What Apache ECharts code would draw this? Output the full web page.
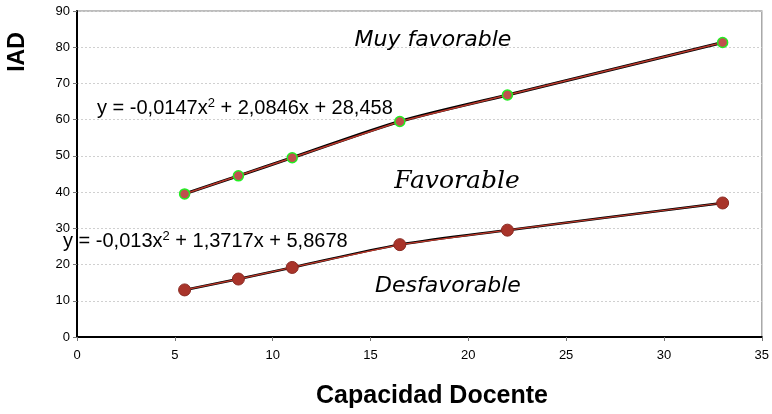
<!DOCTYPE html>
<html>
<head>
<meta charset="utf-8">
<script src="https://cdn.jsdelivr.net/npm/echarts@6/dist/echarts.min.js"></script>
<style>html,body{margin:0;padding:0;background:#fff}#c{width:772px;height:414px}</style>
</head>
<body>
<div id="c"></div>
<script>
var xValues = [5.5, 8.25, 11, 16.5, 22, 33];
var upperValues = [39.5, 44.5, 49.5, 59.5, 66.8, 81.3];
var lowerValues = [13, 16, 19.2, 25.5, 29.5, 37];
var xTitle = 'Capacidad Docente';
var yTitle = 'IAD';
var upperEquation = ['y = -0,0147x', '2', ' + 2,0846x + 28,458'];
var lowerEquation = ['y = -0,013x', '2', ' + 1,3717x + 5,8678'];
var zoneLabels = ['Muy favorable', 'Favorable', 'Desfavorable'];

function pairs(ys){ return xValues.map(function(x,i){ return [x, ys[i]]; }); }
function eqText(parts){ return parts[0] + '{sup|' + parts[1] + '}' + parts[2]; }

var chart = echarts.init(document.getElementById('c'));
var font = 'Liberation Sans, Arial, sans-serif';
var eqRich = {sup: {fontSize: 13, fontFamily: font, verticalAlign: 'top', lineHeight: 22, fill: '#000'}};
chart.setOption({
  animation: false,
  backgroundColor: '#fff',
  grid: {left: 77, right: 7, top: 11, bottom: 77, show: true, borderColor: '#a8a8a8', borderWidth: 1.5, backgroundColor: 'transparent'},
  xAxis: {
    type: 'value', min: 0, max: 35, interval: 5,
    axisLine: {lineStyle: {color: '#000', width: 2}},
    axisTick: {show: true, length: 4, lineStyle: {color: '#777'}},
    splitLine: {show: false},
    axisLabel: {color: '#000', fontSize: 13, fontFamily: font, margin: 12}
  },
  yAxis: {
    type: 'value', min: 0, max: 90, interval: 10,
    axisLine: {show: true, lineStyle: {color: '#000', width: 2}},
    axisTick: {show: true, length: 4, lineStyle: {color: '#777'}},
    splitLine: {show: true, lineStyle: {color: '#d0d0d0', type: [2, 2], width: 1}},
    axisLabel: {color: '#000', fontSize: 13, fontFamily: font, margin: 7}
  },
  series: [
    {type: 'line', data: pairs(upperValues), smooth: 0.3, showSymbol: false, lineStyle: {color: '#000', width: 3}, z: 2},
    {type: 'line', data: pairs(lowerValues), smooth: 0.3, showSymbol: false, lineStyle: {color: '#000', width: 2.5}, z: 2},
    {type: 'line', data: pairs(upperValues), symbol: 'circle', symbolSize: 10,
      lineStyle: {color: '#b8372c', width: 1.5},
      itemStyle: {color: '#c0504d', borderColor: '#22ee22', borderWidth: 1.5}, z: 3},
    {type: 'line', data: pairs(lowerValues), symbol: 'circle', symbolSize: 12,
      lineStyle: {color: '#c0392b', width: 1.2},
      itemStyle: {color: '#a9342a', borderColor: '#8a2a22', borderWidth: 1}, z: 3}
  ],
  graphic: [
    {type: 'text', x: 18, y: 52, rotation: Math.PI/2, style: {text: yTitle, font: 'bold 23px ' + font, fill: '#000', align: 'center', verticalAlign: 'middle'}, z: 10},
    {type: 'text', x: 432, y: 396, style: {text: xTitle, font: 'bold 25px ' + font, fill: '#000', align: 'center', verticalAlign: 'middle'}, z: 10},
    {type: 'text', x: 433, y: 40, style: {text: zoneLabels[0], font: 'oblique 22px "DejaVu Sans", sans-serif', fill: '#000', align: 'center', verticalAlign: 'middle'}, z: 10},
    {type: 'text', x: 457, y: 181, style: {text: zoneLabels[1], font: 'italic 25px "DejaVu Serif", serif', fill: '#000', align: 'center', verticalAlign: 'middle'}, z: 10},
    {type: 'text', x: 448, y: 286, style: {text: zoneLabels[2], font: 'oblique 22px "DejaVu Sans", sans-serif', fill: '#000', align: 'center', verticalAlign: 'middle'}, z: 10},
    {type: 'text', x: 97, y: 108, style: {text: eqText(upperEquation), font: '20px ' + font, fill: '#000', align: 'left', verticalAlign: 'middle', rich: eqRich}, z: 10},
    {type: 'text', x: 63, y: 241, style: {text: eqText(lowerEquation), font: '20px ' + font, fill: '#000', align: 'left', verticalAlign: 'middle', rich: eqRich}, z: 10}
  ]
});
</script>
</body>
</html>
